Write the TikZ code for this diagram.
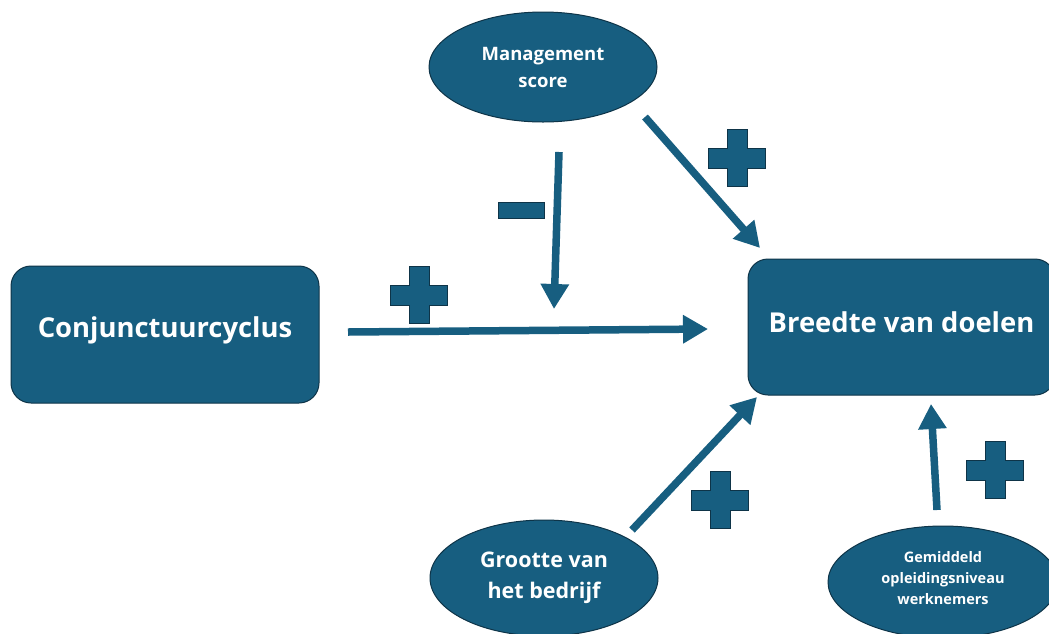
\documentclass[tikz,border=0pt]{standalone}
\usepackage{fontspec}
\setmainfont{Open Sans}
\usetikzlibrary{shapes.geometric,arrows.meta}
\definecolor{mainblue}{RGB}{23,94,128}
\definecolor{edgeblue}{RGB}{14,52,72}
\tikzset{
  box/.style={draw=edgeblue, fill=mainblue, line width=1pt, rounded corners=20pt, inner sep=0pt, text=white, font=\bfseries\fontsize{27.4}{31}\selectfont},
  oval/.style={ellipse, draw=edgeblue, fill=mainblue, line width=1pt, inner sep=0pt, text=white, align=center},
  arr/.style={draw=mainblue, line width=7.5pt, -{Triangle[length=25pt,width=27pt]}},
  signstyle/.style={draw=edgeblue, fill=mainblue, line width=1pt},
  plussign/.pic={\path[signstyle] (-10,-28.5) -- (10,-28.5) -- (10,-10) -- (28.5,-10) -- (28.5,10) -- (10,10) -- (10,28.5) -- (-10,28.5) -- (-10,10) -- (-28.5,10) -- (-28.5,-10) -- (-10,-10) -- cycle;},
  minussign/.pic={\path[signstyle] (-23,-8) rectangle (23,8);}
}
\begin{document}
\begin{tikzpicture}[x=1pt,y=-1pt]
\clip (0,0) rectangle (1049,633);
\fill[white] (0,0) rectangle (1049,633);
% nodes
\node[box, minimum width=308pt, minimum height=137pt] (conj) at (165,334.5) {\raisebox{4pt}[\height][\depth]{Conjunctuurcyclus}};
\node[box, minimum width=307pt, minimum height=136pt] (breedte) at (901.5,327) {\raisebox{5pt}[\height][\depth]{Breedte van doelen}};
\node[oval, minimum width=228pt, minimum height=110pt, font=\bfseries\fontsize{18.5}{27}\selectfont] (mgmt) at (543,67) {Management\\score};
\node[oval, minimum width=228pt, minimum height=116pt, font=\bfseries\fontsize{21.5}{31}\selectfont] (groot) at (544,578) {Grootte van\\het bedrijf};
\node[oval, minimum width=230pt, minimum height=112pt, font=\bfseries\fontsize{14.5}{22}\selectfont] (gem) at (943,582) {\raisebox{3pt}[\height][\depth]{\begin{tabular}{@{}c@{}}Gemiddeld\\[-1pt]opleidingsniveau\\[-1pt]werknemers\end{tabular}}};
% connector endpoints
\coordinate (c1s) at (348,332);
\coordinate (c1e) at (708,329);
\coordinate (c2s) at (559,152);
\coordinate (c2e) at (554,309);
\coordinate (c3s) at (645,117);
\coordinate (c3e) at (760,248);
\coordinate (c4s) at (632,530);
\coordinate (c4e) at (757,397);
\coordinate (c5s) at (937,510);
\coordinate (c5e) at (931,404);
\draw[arr] (c1s) -- (c1e);
\draw[arr] (c2s) -- (c2e);
\draw[arr] (c3s) -- (c3e);
\draw[arr] (c4s) -- (c4e);
\draw[arr] (c5s) -- (c5e);
% signs
\pic at (419,295) {plussign};
\pic at (737,158) {plussign};
\pic at (720,500) {plussign};
\pic at (995,470) {plussign};
\pic at (521,210) {minussign};
\end{tikzpicture}
\end{document}
